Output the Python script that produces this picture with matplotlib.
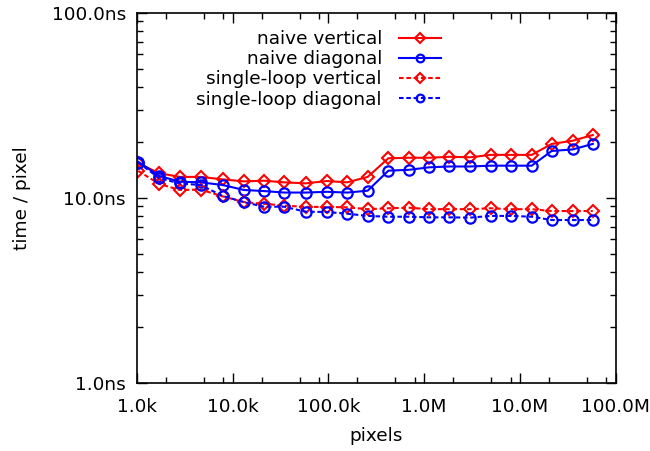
import numpy as np
from matplotlib import pyplot as plt
from matplotlib.ticker import FixedLocator, FuncFormatter, LogLocator, NullFormatter

# pixels per image
pixels = [1030, 1710, 2810, 4630, 7870, 13100, 21200, 34400, 57900, 96000,
          157500, 257000, 423000, 695000, 1.13e6, 1.83e6, 3.02e6, 4.97e6,
          8.1e6, 13.3e6, 21.5e6, 35.7e6, 57.8e6]

# time per pixel in ns
naive_vertical = [15.4, 13.6, 13.0, 13.0, 12.6, 12.3, 12.4, 12.15, 12.0, 12.35,
                  12.15, 13.0, 16.4, 16.5, 16.5, 16.7, 16.6, 17.1, 17.1, 17.1,
                  19.6, 20.4, 21.9]
naive_diagonal = [15.7, 13.15, 12.25, 12.15, 11.75, 11.05, 10.9, 10.7, 10.7, 10.8,
                  10.7, 10.95, 14.05, 14.2, 14.65, 14.8, 14.8, 14.95, 14.95, 14.95,
                  17.95, 18.3, 19.6]
single_vertical = [14.0, 11.9, 11.05, 11.1, 10.2, 9.5, 9.3, 9.1, 8.95, 8.95,
                   8.9, 8.7, 8.8, 8.86, 8.7, 8.7, 8.7, 8.8, 8.7, 8.7,
                   8.5, 8.5, 8.5]
single_diagonal = [15.55, 12.8, 11.98, 11.75, 10.25, 9.5, 8.97, 8.97, 8.43, 8.4,
                   8.22, 8.0, 7.92, 7.92, 7.86, 7.86, 7.83, 8.0, 8.0, 7.92,
                   7.6, 7.6, 7.6]

plt.rcParams['font.family'] = ['DejaVu Sans']
plt.rcParams['font.size'] = 13.3

fig = plt.figure(figsize=(6.5, 4.51), dpi=100)
ax = fig.add_axes([0.2108, 0.1508, 0.947 - 0.2108, 0.9712 - 0.1508])

lw = 1.5
dash = (2.2, 1.3)
ax.plot(pixels, naive_vertical, color='red', lw=lw, marker='D', ms=6.2, mfc='none', mew=1.5,
        label='naive vertical')
ax.plot(pixels, naive_diagonal, color='blue', lw=lw, marker='o', ms=7.4, mfc='none', mew=1.6,
        label='naive diagonal')
ax.plot(pixels, single_vertical, color='red', lw=lw, marker='D', ms=6.2, mfc='none', mew=1.5,
        dashes=dash, label='single-loop vertical')
ax.plot(pixels, single_diagonal, color='blue', lw=lw, marker='o', ms=7.4, mfc='none', mew=1.6,
        dashes=dash, label='single-loop diagonal')

ax.set_xscale('log')
ax.set_yscale('log')
ax.set_xlim(1e3, 1e8)
ax.set_ylim(1, 100)

def xfmt(v, pos):
    if v >= 1e6:
        return '%.1fM' % (v / 1e6)
    return '%.1fk' % (v / 1e3)

ax.xaxis.set_major_locator(FixedLocator([1e3, 1e4, 1e5, 1e6, 1e7, 1e8]))
ax.xaxis.set_major_formatter(FuncFormatter(xfmt))
ax.xaxis.set_minor_locator(LogLocator(base=10, subs=(2, 5, 8)))
ax.xaxis.set_minor_formatter(NullFormatter())
ax.yaxis.set_major_locator(FixedLocator([1, 10, 100]))
ax.yaxis.set_major_formatter(FuncFormatter(lambda v, p: '%.1fns' % v))
ax.yaxis.set_minor_locator(LogLocator(base=10, subs=np.arange(2, 10)))
ax.yaxis.set_minor_formatter(NullFormatter())

ax.tick_params(which='both', direction='in', top=True, right=True, width=1)
ax.tick_params(which='major', length=7)
ax.tick_params(axis='y', which='major', pad=8)
ax.tick_params(axis='x', which='major', pad=11)
ax.tick_params(which='minor', length=4)
for s in ax.spines.values():
    s.set_linewidth(1.2)

ax.set_xlabel('pixels', labelpad=8)
ax.set_ylabel('time / pixel', labelpad=15)

ax.legend(loc='upper right', bbox_to_anchor=(0.667, 0.994), frameon=False, markerfirst=False,
          handlelength=2.3, handletextpad=0.92, labelspacing=0.12, markerscale=0.75,
          borderpad=0.3, fontsize=13.3)

fig.savefig('out.png', dpi=100)
